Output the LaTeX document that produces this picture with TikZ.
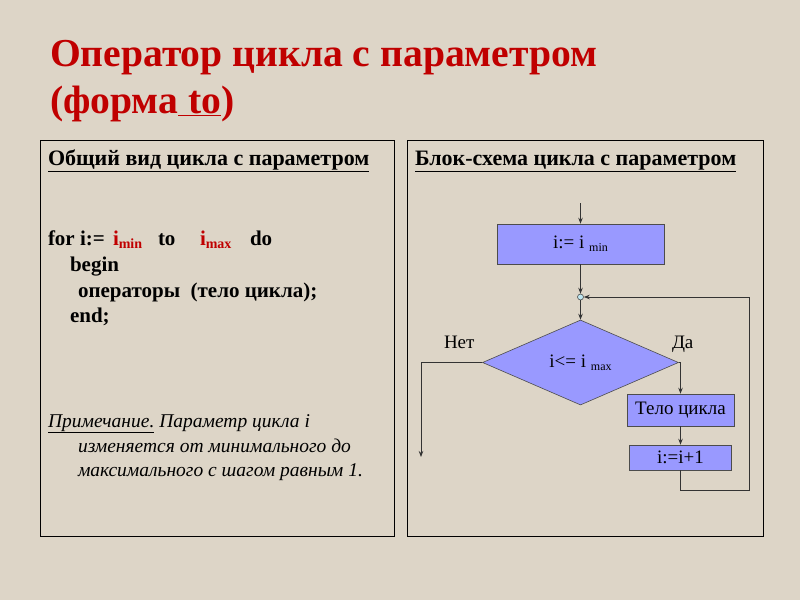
\documentclass[tikz,border=0pt]{standalone}
\usepackage{fontspec}
\setmainfont{Liberation Serif}
\usetikzlibrary{arrows.meta,shapes.geometric}
\definecolor{bg}{RGB}{221,213,199}
\definecolor{titlered}{RGB}{192,0,0}
\definecolor{boxfill}{RGB}{153,153,255}
\definecolor{circfill}{RGB}{190,230,240}
\newcommand{\sbs}[2][12]{\raisebox{-3pt}{\fontsize{#1}{#1}\selectfont #2}}
\begin{document}
\begin{tikzpicture}[x=1pt,y=-1pt,
  txt/.style={anchor=base west, inner sep=0pt, outer sep=0pt},
  ttl/.style={txt, text=titlered, font=\fontsize{39.6}{44}\selectfont\bfseries},
  head/.style={txt, font=\fontsize{22}{26}\selectfont\bfseries},
  code/.style={txt, font=\fontsize{21}{25}\selectfont\bfseries},
  note/.style={txt, font=\fontsize{19.5}{23}\selectfont\itshape},
  lbl/.style={txt, font=\fontsize{19}{22}\selectfont},
  panel/.style={draw=black, line width=1pt, anchor=north west, inner sep=0pt},
  fbox/.style={draw=black!70, fill=boxfill, line width=0.6pt, inner sep=0pt, font=\fontsize{19}{22}\selectfont},
  conn/.style={draw=black!80, line width=0.8pt},
  arr/.style={conn, -{Stealth[length=6pt,width=4.5pt]}},
]
\fill[bg] (0,0) rectangle (800,600);
\useasboundingbox (0,0) rectangle (800,600);

% title
\node[ttl] (t1) at (50,66) {Оператор цикла с параметром};
\node[ttl] (t2) at (50,113) {(форма\underline{\ to})};

% panels
\node[panel, minimum width=354pt, minimum height=396pt] (pl) at (40,140) {};
\node[panel, minimum width=356pt, minimum height=396pt] (pr) at (407,140) {};

% left text
\node[head] (h1) at (48,165) {\underline{Общий вид цикла с параметром}};
\node[code] (c1) at (48,245) {for i:=};
\node[code, text=titlered] (c2) at (113,245) {i\sbs[14]{min}};
\node[code] (c3) at (158,245) {to};
\node[code, text=titlered] (c4) at (200,245) {i\sbs[14]{max}};
\node[code] (c5) at (250,245) {do};
\node[code] (c6) at (70,271) {begin};
\node[code] (c7) at (78,297) {операторы\ \ (тело цикла);};
\node[code] (c8) at (70,322) {end;};
\node[note] (n1) at (48,427) {\underline{Примечание.} Параметр цикла i};
\node[note] (n2) at (78,452) {изменяется от минимального до};
\node[note] (n3) at (78,476) {максимального с шагом равным 1.};

% right
\node[head] (h2) at (415,165) {\underline{Блок-схема цикла с параметром}};

\coordinate (start) at (580.5,203);
\node[fbox, minimum width=167pt, minimum height=40pt] (b1) at (580.5,244) {i:= i \sbs{min}};
\node[circle, draw=black!70, fill=circfill, minimum size=6pt, inner sep=0pt, line width=0.6pt] (c) at (580.5,297) {};
\node[diamond, draw=black!70, fill=boxfill, line width=0.6pt, inner sep=0pt, aspect=2.3, minimum width=196pt, minimum height=85pt, font=\fontsize{19}{22}\selectfont] (d) at (580.5,362.5) {i<= i \sbs{max}};
\node[fbox, minimum width=107pt, minimum height=32pt] (b2) at (680.5,410) {Тело цикла};
\node[fbox, minimum width=102pt, minimum height=25pt] (b3) at (680.5,457.5) {i:=i+1};
\coordinate (noend) at (421,457);
\coordinate (loopr) at (749,490);

\node[lbl] (no) at (444,348) {Нет};
\node[lbl] (yes) at (672,348) {Да};

\draw[arr] (start) -- (b1.north);
\draw[arr] (b1.south) -- (c.north);
\draw[arr] (c.south) -- (d.north);
\draw[arr] (d.east) -| (b2.north);
\draw[arr] (b2.south) -- (b3.north);
\draw[arr] (d.west) -| (noend);
\draw[arr] (b3.south) |- (loopr) |- (c.east);
\end{tikzpicture}
\end{document}
